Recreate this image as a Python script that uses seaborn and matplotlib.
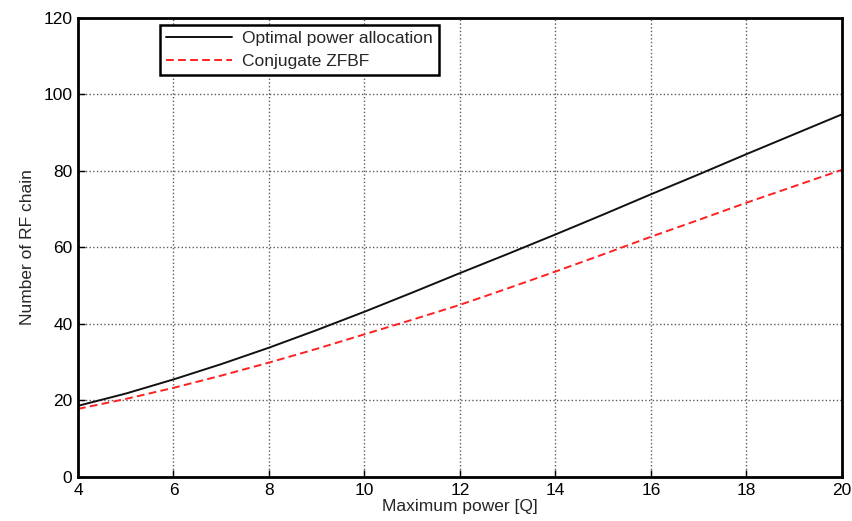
import pandas as pd
import matplotlib.pyplot as plt
import seaborn as sns

power = [4, 5, 6, 7, 8, 9, 10, 11, 12, 13, 14, 15, 16, 17, 18, 19, 20]
optimal = [18.6, 21.8, 25.5, 29.5, 33.8, 38.4, 43.2, 48.2, 53.3, 58.3,
           63.4, 68.6, 73.9, 79.1, 84.4, 89.6, 94.8]
zfbf = [17.8, 20.4, 23.3, 26.5, 29.9, 33.5, 37.3, 41.1, 45.0, 49.3,
        53.7, 58.2, 62.8, 67.2, 71.7, 76.0, 80.3]

df = pd.DataFrame({'power': power * 2,
                   'rf': optimal + zfbf,
                   'scheme': ['Optimal power allocation'] * len(power) + ['Conjugate ZFBF'] * len(power)})

sns.set_style("ticks")
plt.rcParams['font.family'] = ['Liberation Sans', 'DejaVu Sans']

fig = plt.figure(figsize=(8.53, 5.21), dpi=100)
ax = fig.add_axes([0.0914, 0.0845, 0.8956, 0.881])

sns.lineplot(data=df, x='power', y='rf', hue='scheme', style='scheme',
             palette={'Optimal power allocation': '#111111', 'Conjugate ZFBF': '#ff2020'},
             dashes={'Optimal power allocation': '', 'Conjugate ZFBF': (4, 2.2)},
             linewidth=1.4, ax=ax)

ax.set_xlim(4, 20)
ax.set_ylim(0, 120)
ax.set_xticks(range(4, 21, 2))
ax.set_yticks(range(0, 121, 20))
ax.grid(True, linestyle=':', color='#333333', linewidth=1.0, alpha=0.8)
ax.tick_params(direction='in', length=5, width=1, labelsize=12.5, colors='black', pad=4)
for s in ax.spines.values():
    s.set_linewidth(2)
    s.set_color('black')

ax.set_xlabel('Maximum power [Q]', fontsize=12.5, labelpad=1)
ax.set_ylabel('Number of RF chain', fontsize=12.5, labelpad=6)

leg = ax.legend(loc='upper left', bbox_to_anchor=(0.107, 0.985), fontsize=12.5,
                frameon=True, fancybox=False, edgecolor='black',
                borderpad=0.35, handlelength=3.8, handletextpad=0.6,
                labelspacing=0.45, borderaxespad=0)
leg.get_frame().set_linewidth(1.8)
leg.get_frame().set_alpha(1)

plt.savefig('out.png', dpi=100)
